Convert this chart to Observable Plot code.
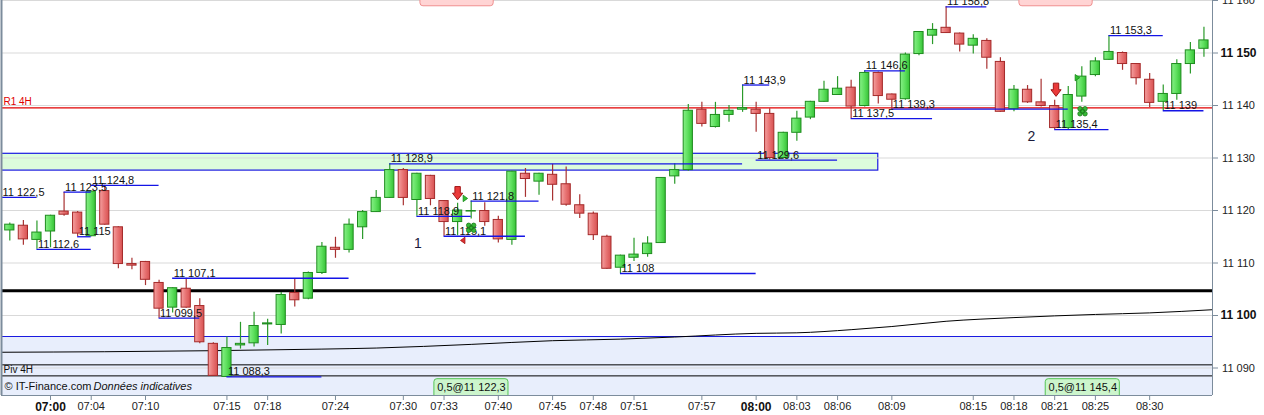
<!DOCTYPE html>
<html><head><meta charset="utf-8">
<script src="https://cdn.jsdelivr.net/npm/d3@7"></script>
<script src="https://cdn.jsdelivr.net/npm/@observablehq/plot@0.6"></script>
<style>
body{margin:0;background:#fff;}
#chart{width:1264px;height:415px;overflow:hidden;}
</style></head><body><div id="chart"></div>
<script>
// ---------- candle data (index = bar number) ----------
const opens  = [11116.2,11117.1,11114.4,11116.0,11119.8,11119.6,11115.1,11123.7,11116.8,11109.8,
                11110.2,11106.2,11101.5,11105.1,11101.8,11094.6,11088.3,11094.3,11094.7,11098.3,
                11098.2,11104.3,11103.2,11108.1,11112.9,11112.5,11116.8,11119.7,11122.4,11127.7,
                11122.0,11126.6,11121.8,11117.8,11119.8,11119.9,11118.2,11114.4,11127.0,11125.5,
                11126.8,11125.0,11121.0,11119.4,11115.0,11109.1,11111.0,11111.7,11113.8,11126.5,
                11127.7,11139.2,11135.9,11138.2,11139.2,11139.2,11138.4,11130.0,11134.8,11137.7,
                11140.7,11142.0,11143.4,11139.9,11146.2,11142.1,11141.2,11149.8,11153.3,11154.8,
                11153.7,11151.4,11152.3,11148.3,11139.3,11143.0,11140.6,11139.9,11135.7,11141.7,
                11145.8,11148.7,11150.0,11147.9,11144.9,11140.7,11142.2,11147.9,11150.8];
const highs  = [11117.6,11118.1,11118.0,11119.1,11123.5,11119.8,11123.6,11124.8,11116.9,11110.9,
                11110.3,11106.7,11105.3,11107.1,11103.2,11094.8,11095.9,11098.7,11100.6,11099.3,
                11104.4,11107.0,11108.3,11113.9,11114.9,11118.4,11120.0,11123.8,11128.9,11128.0,
                11127.1,11126.7,11121.9,11121.4,11121.8,11121.5,11118.9,11127.5,11128.0,11127.1,
                11128.8,11128.3,11123.0,11119.7,11115.3,11111.5,11114.7,11115.0,11126.3,11128.9,
                11140.2,11140.6,11140.6,11140.0,11143.9,11140.6,11139.4,11134.9,11138.9,11140.8,
                11144.6,11145.5,11144.8,11146.6,11146.4,11142.2,11150.0,11154.1,11155.6,11158.8,
                11153.8,11153.5,11152.7,11149.1,11143.8,11143.8,11145.0,11141.0,11143.6,11147.4,
                11149.1,11153.3,11150.2,11148.0,11146.1,11143.9,11148.7,11152.0,11154.9];
const lows   = [11114.2,11113.4,11112.6,11112.9,11118.9,11115.0,11115.0,11117.2,11108.9,11108.7,
                11105.7,11099.5,11100.5,11101.4,11094.6,11088.4,11088.3,11093.6,11094.0,11094.3,
                11096.5,11101.6,11103.0,11107.8,11110.9,11111.9,11114.5,11119.6,11122.3,11120.9,
                11118.9,11120.9,11115.1,11115.2,11118.4,11117.0,11113.8,11113.4,11122.5,11122.9,
                11121.8,11120.8,11118.5,11114.3,11108.8,11108.0,11110.3,11111.1,11113.7,11125.0,
                11127.5,11135.9,11135.7,11136.8,11138.7,11134.9,11129.6,11129.8,11133.2,11137.3,
                11140.6,11141.9,11137.5,11139.7,11140.3,11139.3,11141.0,11149.5,11151.6,11153.7,
                11150.2,11149.8,11146.9,11138.7,11138.8,11140.4,11139.7,11135.4,11135.4,11140.6,
                11145.5,11148.6,11146.7,11143.9,11139.6,11139.0,11141.0,11146.0,11149.2];
const closes = [11117.3,11114.5,11115.8,11119.0,11119.2,11115.6,11123.6,11117.3,11109.8,11109.5,
                11106.8,11101.3,11105.2,11101.5,11094.9,11088.5,11093.8,11094.6,11098.0,11098.5,
                11103.9,11102.9,11108.1,11113.1,11112.5,11117.3,11119.7,11122.4,11127.7,11122.4,
                11127.0,11122.2,11117.8,11120.0,11119.9,11117.8,11114.5,11127.4,11126.0,11127.0,
                11124.9,11121.1,11119.4,11115.3,11108.9,11111.4,11111.6,11113.7,11126.2,11127.7,
                11139.0,11136.5,11138.2,11139.0,11139.5,11138.4,11130.0,11134.8,11137.5,11140.7,
                11143.0,11143.2,11139.8,11146.2,11141.8,11141.1,11149.7,11154.0,11154.4,11153.8,
                11151.6,11152.7,11149.1,11138.8,11143.0,11140.6,11139.9,11135.7,11142.0,11145.5,
                11148.4,11150.2,11147.9,11145.2,11140.5,11142.2,11147.9,11150.5,11152.4];

// ---------- x axis labels ----------
const xTickIdx = [3,6,10,16,19,24,29,32,36,40,43,46,51,55,58,61,65,71,74,77,80,84];
const xLabels  = ["07:00","07:04","07:10","07:15","07:18","07:24","07:30","07:33","07:40","07:45","07:48",
                  "07:51","07:57","08:00","08:03","08:06","08:09","08:15","08:18","08:21","08:25","08:30"];
const xBold    = ["07:00","08:00"];

// ---------- y axis ticks ----------
const yTicks     = [11090,11110,11120,11130,11140,11160];
const yTicksBold = [11100,11150];
const gridVals   = [11090,11100,11110,11120,11130,11140,11150,11160];

// ---------- moving average (sparse reading) ----------
const maIdx = [-0.61,7,15,23,27,34,40,45,49,55,58,62,65,69,74,80,84,88.63];
const maVal = [11093.0,11093.1,11093.3,11093.6,11093.8,11094.5,11095.2,11095.5,11095.9,11096.6,
               11096.7,11097.3,11097.9,11098.9,11099.6,11100.2,11100.5,11101.1];

// ---------- swing levels ----------
const levelVal   = [11122.5,11123.5,11124.8,11112.6,11115.0,11107.1,11099.5,11088.3,11128.9,11118.9,11121.8,
                    11115.1,11108.0,11143.9,11129.6,11137.5,11146.6,11139.3,11158.8,11153.3,11135.4,11139.0];
const levelStart = [-0.61,4,6,2,5,12,11,16,28,30,34,32,45,54,55,62,63,65,69,81,77,85];
const levelEnd   = [2,6,11,6,6,25,14,23,54,34,39,38,55,56,61,68,66,78,72,85,81,88];
const levelText  = ["11 122,5","11 123,5","11 124,8","11 112,6","11 115","11 107,1","11 099,5","11 088,3",
                    "11 128,9","11 118,9","11 121,8","11 115,1","11 108","11 143,9","11 129,6","11 137,5",
                    "11 146,6","11 139,3","11 158,8","11 153,3","11 135,4","11 139"];

// ---------- pivots / zones ----------
const r1Val = 11139.56;
const pivVal = 11088.5;
const s1Val = 11090.6;
const thickVal = 11104.7;
const blueZoneTop = 11096.0;
const greenZoneLow = 11127.6, greenZoneHigh = 11130.8, greenZoneEnd = 64;

// ---------- signals ----------
const arrowIdx = [33,77.1],    arrowVal = [11123.3,11143.0];
const triIdx   = [33.55,78.65],triVal   = [11122.3,11145.3];
const cloverIdx= [34,79.05],   cloverVal= [11116.7,11138.9];
const redTriIdx= [33.4],       redTriVal= [11114.3];
const tradeIdx = [34.02,79.07];
const tradeText= ["0,5@11 122,3","0,5@11 145,4"];
const pinkIdx  = [32.96,77.1];
const waveIdx  = [30.07,75.29], waveVal = [11113.8,11134.0], waveText = ["1","2"];

// ---------- build ----------
const xMin = -0.612, xMax = 88.63, yMin = 11084.762, yMax = 11160;
const candles = opens.map((o,i)=>({i, o, h: highs[i], l: lows[i], c: closes[i], up: closes[i] >= o}));
const levels = levelVal.map((v,k)=>({v, s: levelStart[k], e: levelEnd[k], t: levelText[k]}));
const ma = maIdx.map((x,k)=>({x, v: maVal[k]}));
const fmt = d => d3.format(",")(d).replace(/,/g," ");
const hw = 0.34;

const downArrow = {draw(ctx, size){ const r = Math.sqrt(size/Math.PI);
  const sw = r*0.45, hwid = r*0.85, h = r*1.1;
  ctx.moveTo(-sw,-h); ctx.lineTo(sw,-h); ctx.lineTo(sw,0); ctx.lineTo(hwid,0);
  ctx.lineTo(0,h); ctx.lineTo(-hwid,0); ctx.lineTo(-sw,0); ctx.closePath(); }};
const rightTri = {draw(ctx, size){ const r = Math.sqrt(size/Math.PI);
  ctx.moveTo(-r*0.6,-r); ctx.lineTo(r*0.8,0); ctx.lineTo(-r*0.6,r); ctx.closePath(); }};
const leftTri = {draw(ctx, size){ const r = Math.sqrt(size/Math.PI);
  ctx.moveTo(r*0.6,-r); ctx.lineTo(-r*0.8,0); ctx.lineTo(r*0.6,r); ctx.closePath(); }};
const clover = {draw(ctx, size){ const r = Math.sqrt(size/Math.PI); const q = r*0.5, c = r*0.45;
  for (const [sx,sy] of [[-1,-1],[1,-1],[1,1],[-1,1]]) { ctx.moveTo(sx*q + c, sy*q); ctx.arc(sx*q, sy*q, c, 0, 2*Math.PI); }
  ctx.moveTo(c,0); ctx.arc(0,0,c,0,2*Math.PI); }};

const axisCol = "#7c8c9c";
const chart = Plot.plot({
  width: 1264, height: 415,
  marginLeft: 1, marginRight: 52, marginTop: 0, marginBottom: 20,
  x: {domain: [xMin, xMax], axis: null},
  y: {domain: [yMin, yMax], axis: null},
  style: {fontFamily: "'Liberation Sans', Arial, sans-serif", background: "#fff", overflow: "hidden"},
  marks: [
    // zones
    Plot.rect([0], {x1: xMin, x2: xMax, y1: yMin, y2: blueZoneTop, fill: "#e8eefc"}),
    Plot.rect([0], {x1: xMin - 1, x2: greenZoneEnd, y1: greenZoneLow, y2: greenZoneHigh, fill: "#dcfcdc", stroke: "#1a1ae0", strokeWidth: 1.2, clip: true}),
    Plot.ruleY(gridVals, {stroke: "#d9d9d9"}),
    Plot.ruleY([blueZoneTop], {stroke: "#1a1ae0", strokeWidth: 1.2}),
    Plot.ruleY([s1Val, pivVal], {stroke: "#000", strokeWidth: 1}),
    Plot.ruleY([thickVal], {stroke: "#000", strokeWidth: 3}),
    Plot.ruleY([r1Val], {stroke: "#e00000", strokeWidth: 1.3}),
    Plot.line(ma, {x: "x", y: "v", stroke: "#000", strokeWidth: 1, curve: "monotone-x"}),
    // candles
    Plot.ruleX(candles, {x: "i", y1: "l", y2: "h", stroke: d => d.up ? "#2a9a2a" : "#a83232", strokeWidth: 1.2}),
    Plot.rect(candles.filter(d=>d.up), {x1: d=>d.i-hw, x2: d=>d.i+hw, y1: "o", y2: "c", fill: "url(#gUp)", stroke: "#1f8c1f", strokeWidth: 1}),
    Plot.rect(candles.filter(d=>!d.up), {x1: d=>d.i-hw, x2: d=>d.i+hw, y1: "o", y2: "c", fill: "url(#gDn)", stroke: "#a52a2a", strokeWidth: 1}),
    // swing levels
    Plot.ruleY(levels, {y: "v", x1: "s", x2: "e", stroke: "#1414e6", strokeWidth: 1.3}),
    Plot.text(levels, {x: "s", y: "v", text: "t", textAnchor: "start", lineAnchor: "bottom", dx: 1, dy: -1.5, fontSize: 11, fill: "#111"}),
    // pivot labels
    Plot.text(["R1 4H"], {frameAnchor: "left", y: r1Val, text: d=>d, textAnchor: "start", lineAnchor: "bottom", dx: 2, dy: -3, fontSize: 10, fill: "#e00000"}),
    Plot.text(["Piv 4H"], {frameAnchor: "left", y: pivVal, text: d=>d, textAnchor: "start", lineAnchor: "bottom", dx: 2, dy: -3, fontSize: 10, fill: "#111"}),
    // wave numbers
    Plot.text(waveText, {x: (d,k)=>waveIdx[k], y: (d,k)=>waveVal[k], text: d=>d, fontSize: 14, fill: "#1a1a3a"}),
    // signals
    Plot.dot(arrowIdx, {x: d=>d, y: (d,k)=>arrowVal[k], symbol: downArrow, r: 6, fill: "#ea3a3a", stroke: "#a01515", strokeWidth: 1}),
    Plot.dot(triIdx, {x: d=>d, y: (d,k)=>triVal[k], symbol: rightTri, r: 3.2, fill: "#2fbf2f", stroke: "#1a8a1a", strokeWidth: 0.8}),
    Plot.dot(redTriIdx, {x: d=>d, y: (d,k)=>redTriVal[k], symbol: leftTri, r: 3.2, fill: "#e03030", stroke: "#a01515", strokeWidth: 0.8}),
    Plot.dot(cloverIdx, {x: d=>d, y: (d,k)=>cloverVal[k], symbol: clover, r: 5, fill: "#36b836", stroke: "#1a7a1a", strokeWidth: 0.8}),
    // trade boxes
    Plot.rect(tradeIdx, {x1: d=>d-2.73, x2: d=>d+2.73, y1: yMin - 1, y2: 11087.87, fill: "#ccf5cc", stroke: "#55c455", rx: 3, clip: true}),
    Plot.text(tradeText, {x: (d,k)=>tradeIdx[k], y: 11086.3, text: d=>d, fontSize: 11, fill: "#111"}),
    Plot.rect(pinkIdx, {x1: d=>d-2.7, x2: d=>d+2.7, y1: 11158.9, y2: yMax + 4, fill: "#ffd4d4", stroke: "#f09090", rx: 3, clip: true}),
    // frame
    Plot.ruleX([xMin], {stroke: axisCol, strokeWidth: 2}),
    Plot.ruleX([xMax], {stroke: axisCol}),
    Plot.ruleY([yMin], {stroke: axisCol}),
    // copyright
    Plot.text(["© IT-Finance.com"], {frameAnchor: "bottom-left", text: d=>d, textAnchor: "start", dx: 3, dy: -6, fontSize: 11, fill: "#111"}),
    Plot.text(["Données indicatives"], {frameAnchor: "bottom-left", text: d=>d, textAnchor: "start", dx: 92, dy: -6, fontSize: 11, fontStyle: "italic", fill: "#111"}),
    // axes
    Plot.axisX(xTickIdx.filter((d,k)=>!xBold.includes(xLabels[k])), {anchor: "bottom", tickSize: 5, tickPadding: 2, tickFormat: d=>xLabels[xTickIdx.indexOf(d)], fontSize: 11, stroke: axisCol, fill: "#222"}),
    Plot.axisX(xTickIdx.filter((d,k)=>xBold.includes(xLabels[k])), {anchor: "bottom", tickSize: 5, tickPadding: 2, tickFormat: d=>xLabels[xTickIdx.indexOf(d)], fontSize: 12, fontWeight: "bold", stroke: axisCol, fill: "#111"}),
    Plot.axisY(yTicks, {anchor: "right", tickSize: 5, tickPadding: 21, textAnchor: "middle", tickFormat: fmt, fontSize: 11, stroke: axisCol, fill: "#222"}),
    Plot.axisY(yTicksBold, {anchor: "right", tickSize: 5, tickPadding: 21, textAnchor: "middle", tickFormat: fmt, fontSize: 12, fontWeight: "bold", stroke: axisCol, fill: "#111"})
  ]
});
chart.insertAdjacentHTML("afterbegin",
  `<defs>
    <linearGradient id="gUp" x1="0" x2="1" y1="0" y2="0"><stop offset="0" stop-color="#86ef86"/><stop offset="0.5" stop-color="#5fe05f"/><stop offset="1" stop-color="#36c236"/></linearGradient>
    <linearGradient id="gDn" x1="0" x2="1" y1="0" y2="0"><stop offset="0" stop-color="#f4a0a0"/><stop offset="0.5" stop-color="#e87474"/><stop offset="1" stop-color="#d85252"/></linearGradient>
  </defs>`);
document.getElementById("chart").appendChild(chart);
</script>
</body></html>
